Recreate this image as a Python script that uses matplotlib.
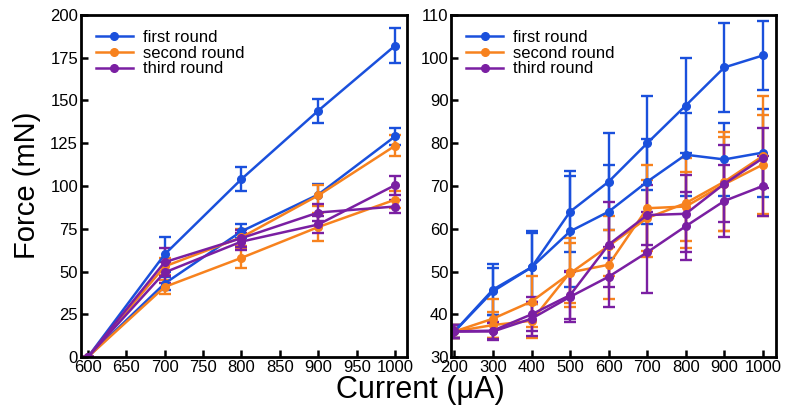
import matplotlib.pyplot as plt
from matplotlib.lines import Line2D

plt.rcParams['font.family'] = ['Liberation Sans', 'DejaVu Sans']

# left panel: 600-1000 uA, two runs per round
cur_l = [600, 700, 800, 900, 1000]
first_l_a = [0, 60, 104, 144, 182]
first_l_a_err = [0, 10, 7, 7, 10]
first_l_b = [0, 43, 73.5, 95, 129]
first_l_b_err = [0, 4, 4, 6, 5]
second_l_a = [0, 41, 58, 76, 92]
second_l_a_err = [0, 4, 6, 8, 5]
second_l_b = [0, 53, 70, 94.5, 123.5]
second_l_b_err = [0, 5, 5, 6, 6]
third_l_a = [0, 55.5, 69.5, 84.5, 88]
third_l_a_err = [0, 8, 5, 5, 4]
third_l_b = [0, 49.5, 67.5, 77.5, 100.5]
third_l_b_err = [0, 6, 5, 5, 5.5]

# right panel: 200-1000 uA
cur_r = [200, 300, 400, 500, 600, 700, 800, 900, 1000]
first_r_a = [36, 45.8, 51, 64, 71, 80, 88.8, 97.7, 100.5]
first_r_a_err = [1.5, 6, 8.5, 9.5, 11.3, 11, 11, 10.3, 8]
first_r_b = [36, 45.4, 51, 59.4, 64, 71, 77.3, 76.2, 77.8]
first_r_b_err = [1.5, 5.5, 8, 13, 10.8, 10, 9.7, 8.5, 10.3]
second_r_a = [36, 39, 43, 49.6, 56, 62.5, 66, 71, 77]
second_r_a_err = [1.5, 4.5, 6, 7, 7, 9, 10.5, 11.5, 14]
second_r_b = [36, 37.5, 38.5, 49.8, 51.6, 64.8, 65.2, 70.4, 75]
second_r_b_err = [1.5, 3, 4, 8, 8, 10, 8, 11, 11.5]
third_r_a = [36, 36.2, 40, 44.5, 56.3, 63.2, 63.5, 70.5, 76.5]
third_r_a_err = [1.5, 2, 4, 5.5, 10, 7, 9, 9, 7]
third_r_b = [36, 36, 39, 44.1, 48.8, 54.5, 60.6, 66.5, 70]
third_r_b_err = [1.5, 2, 4, 6, 7, 9.5, 8, 8.5, 7]

labels = ['first round', 'second round', 'third round']
colors = ['#1a50dc', '#f7821e', '#7a1fa2']

fig = plt.figure(figsize=(7.85, 4.11), dpi=100)
ax1 = fig.add_axes([0.103, 0.131, 0.415, 0.833])
ax2 = fig.add_axes([0.575, 0.131, 0.413, 0.833])


def draw(ax, x, runs):
    for (a, ea, b, eb), c in zip(runs, colors):
        for y, e in ((a, ea), (b, eb)):
            ax.errorbar(x, y, yerr=e, color=c, lw=1.8, marker='o', ms=5.5,
                        capsize=4.5, capthick=1.7, elinewidth=1.7)


draw(ax1, cur_l, [(first_l_a, first_l_a_err, first_l_b, first_l_b_err),
                  (second_l_a, second_l_a_err, second_l_b, second_l_b_err),
                  (third_l_a, third_l_a_err, third_l_b, third_l_b_err)])
draw(ax2, cur_r, [(first_r_a, first_r_a_err, first_r_b, first_r_b_err),
                  (second_r_a, second_r_a_err, second_r_b, second_r_b_err),
                  (third_r_a, third_r_a_err, third_r_b, third_r_b_err)])

ax1.set_xlim(591, 1015)
ax1.set_ylim(0, 200)
ax1.set_xticks(range(600, 1001, 50))
ax1.set_yticks(range(0, 201, 25))
ax2.set_xlim(192, 1033)
ax2.set_ylim(30, 110)
ax2.set_xticks(range(200, 1001, 100))
ax2.set_yticks(range(30, 111, 10))

handles = [Line2D([], [], color=c, lw=1.8, marker='o', ms=5.5) for c in colors]
for ax in (ax1, ax2):
    for s in ax.spines.values():
        s.set_linewidth(2)
    ax.tick_params(direction='in', length=5, width=1.8, labelsize=12, pad=2)
    ax.legend(handles, labels, loc='upper left', bbox_to_anchor=(0.0, 1.0),
              frameon=False, fontsize=12, handlelength=2.2, labelspacing=0.05,
              handletextpad=0.6)

fig.text(0.035, 0.548, 'Force (mN)', rotation=90, fontsize=21,
         ha='center', va='center')
fig.text(0.535, 0.05, 'Current (\u03bcA)', fontsize=22, ha='center', va='center')

fig.savefig('out.png', dpi=100)
